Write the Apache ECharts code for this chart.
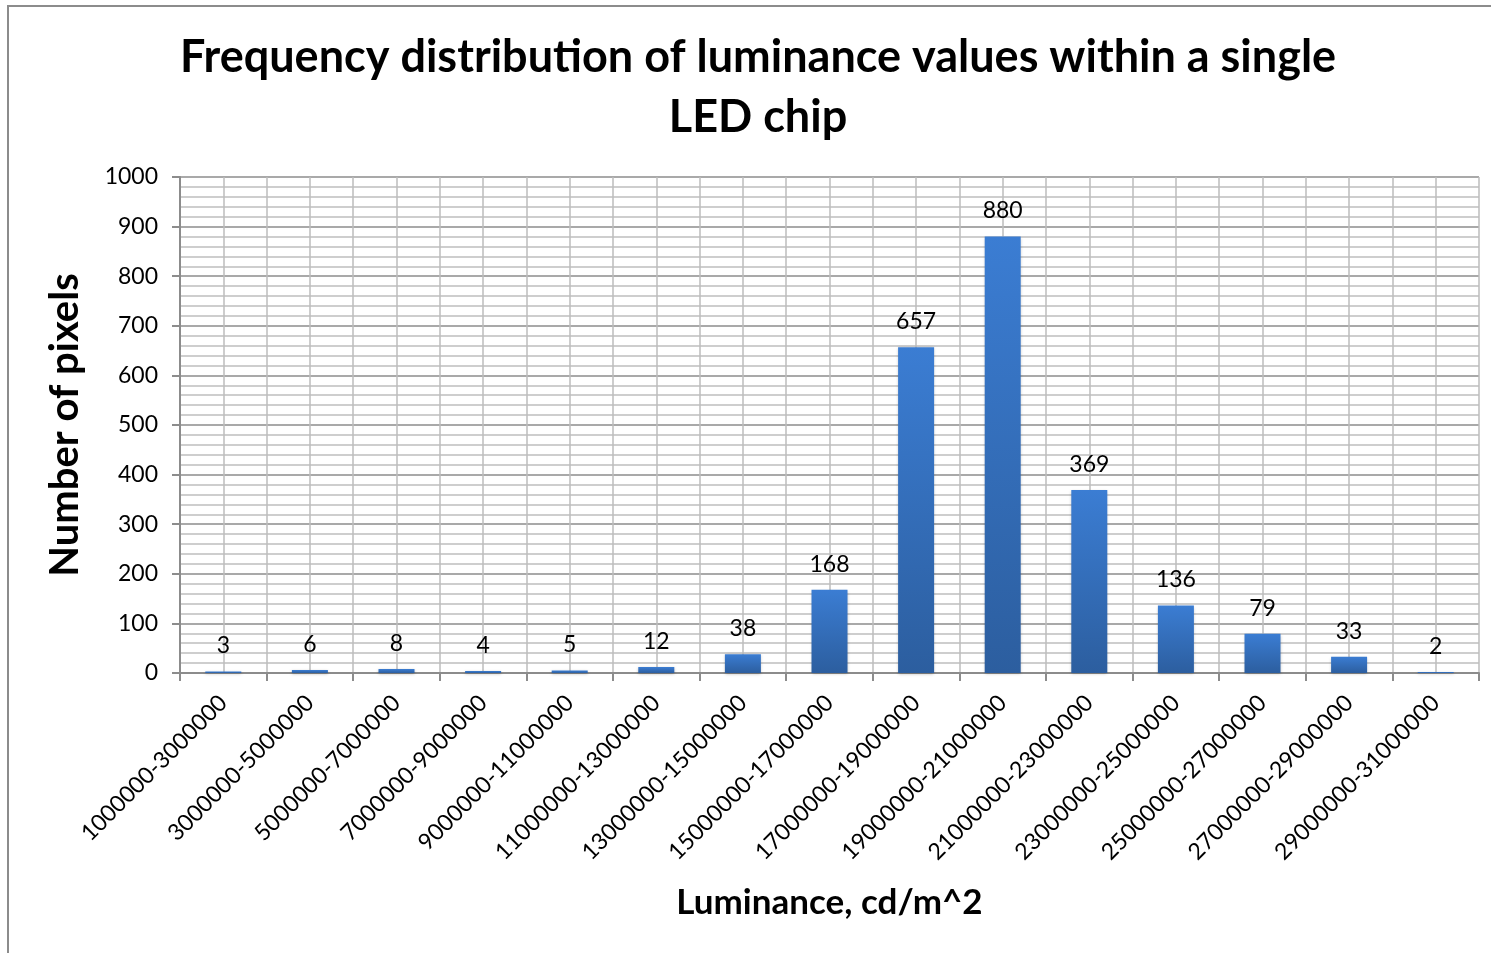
<!DOCTYPE html>
<html>
<head>
<meta charset="utf-8">
<title>Luminance frequency distribution</title>
<script src="https://cdn.jsdelivr.net/npm/echarts@6/dist/echarts.min.js"></script>
<style>
  html, body { margin: 0; padding: 0; background: #fff; }
  #chart { width: 1491px; height: 953px; }
</style>
</head>
<body>
<div id="chart"></div>
<script>
// Luminance bins (cd/m^2) and pixel counts per bin
const categories = [
  '1000000-3000000', '3000000-5000000', '5000000-7000000', '7000000-9000000',
  '9000000-11000000', '11000000-13000000', '13000000-15000000', '15000000-17000000',
  '17000000-19000000', '19000000-21000000', '21000000-23000000', '23000000-25000000',
  '25000000-27000000', '27000000-29000000', '29000000-31000000'
];
const pixelCounts = [3, 6, 8, 4, 5, 12, 38, 168, 657, 880, 369, 136, 79, 33, 2];

const titleLines = ['Frequency distribution of luminance values within a single', 'LED chip'];
const yAxisTitle = 'Number of pixels';
const xAxisTitle = 'Luminance, cd/m^2';

const FONT = 'Lato, "Open Sans", sans-serif';
const chart = echarts.init(document.getElementById('chart'), null, { renderer: 'canvas' });

chart.setOption({
  backgroundColor: '#ffffff',
  animation: false,
  graphic: [
    {
      type: 'rect',
      shape: { x: 8, y: 6, width: 1600, height: 1100 },
      style: { fill: 'none', stroke: '#8c8c8c', lineWidth: 2 },
      silent: true
    },
    {
      type: 'text',
      silent: true,
      style: {
        x: 758,
        y: 57,
        text: titleLines[0],
        font: 'bold 45px ' + FONT,
        fill: '#000',
        align: 'center',
        verticalAlign: 'middle'
      }
    },
    {
      type: 'text',
      silent: true,
      style: {
        x: 758,
        y: 117,
        text: titleLines[1],
        font: 'bold 45px ' + FONT,
        fill: '#000',
        align: 'center',
        verticalAlign: 'middle'
      }
    }
  ],
  grid: { left: 180, right: 12, top: 177, bottom: 280, containLabel: false },
  xAxis: [
    {
      type: 'category',
      data: categories,
      boundaryGap: true,
      name: xAxisTitle,
      nameLocation: 'middle',
      nameGap: 212,
      nameTextStyle: { fontFamily: FONT, fontWeight: 'bold', fontSize: 35, color: '#000' },
      axisLine: { lineStyle: { color: '#8c8c8c', width: 2 } },
      axisTick: { show: true, length: 8, lineStyle: { color: '#8c8c8c', width: 2 } },
      axisLabel: { rotate: 45, interval: 0, margin: 26, fontFamily: FONT, fontSize: 23, color: '#000' },
      splitLine: { show: false }
    },
    {
      // helper axis carrying the vertical grid at every bin edge and centre
      type: 'value',
      min: 0,
      max: categories.length,
      interval: 0.5,
      position: 'bottom',
      show: true,
      axisLine: { show: false },
      axisTick: { show: false },
      axisLabel: { show: false },
      splitLine: { show: true, lineStyle: { color: '#bdbdbd', width: 1.5 } }
    }
  ],
  yAxis: {
    type: 'value',
    min: 0,
    max: 1000,
    interval: 100,
    name: yAxisTitle,
    nameLocation: 'middle',
    nameGap: 95,
    nameTextStyle: { fontFamily: FONT, fontWeight: 'bold', fontSize: 40, color: '#000' },
    axisLine: { show: true, lineStyle: { color: '#8c8c8c', width: 2 } },
    axisTick: { show: true, length: 8, lineStyle: { color: '#8c8c8c', width: 2 } },
    axisLabel: { margin: 22, fontFamily: FONT, fontSize: 23, color: '#000', formatter: (v) => String(v) },
    splitLine: { show: true, lineStyle: { color: '#8c8c8c', width: 1.5 } },
    minorTick: { show: false, splitNumber: 5 },
    minorSplitLine: { show: true, lineStyle: { color: '#bfbfbf', width: 1.5 } }
  },
  series: [
    {
      type: 'bar',
      xAxisIndex: 0,
      data: pixelCounts,
      barWidth: 36,
      itemStyle: {
        color: new echarts.graphic.LinearGradient(0, 0, 0, 1, [
          { offset: 0, color: '#3b7dd3' },
          { offset: 1, color: '#2c5e9f' }
        ]),
        shadowColor: 'rgba(0,0,0,0.25)',
        shadowBlur: 3,
        shadowOffsetY: 1
      },
      label: {
        show: true,
        position: 'top',
        distance: 14,
        fontFamily: FONT,
        fontSize: 23,
        color: '#000'
      }
    }
  ]
});
</script>
</body>
</html>
